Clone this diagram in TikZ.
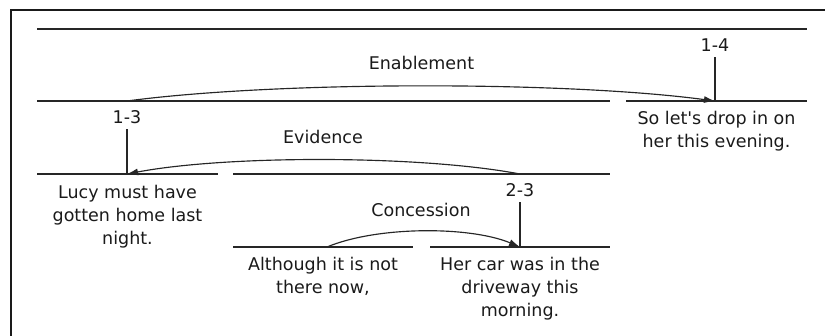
\documentclass[tikz,border=0pt]{standalone}
\usepackage{fontspec}
\setmainfont{DejaVu Sans}
\newfontfamily\lblfont{DejaVu Sans}
\usetikzlibrary{arrows.meta}
\definecolor{linec}{HTML}{262626}
\definecolor{txtc}{HTML}{1A1A1A}
\definecolor{framec}{HTML}{1A1A1A}
\begin{document}
\begin{tikzpicture}[x=1pt,y=-1pt,
  span/.style={draw=linec, line width=1.15pt},
  txt/.style={font=\lblfont\fontsize{17.5}{23}\selectfont, text=txtc, align=center, inner sep=0pt, anchor=north},
  numlbl/.style={font=\lblfont\fontsize{17.5}{23}\selectfont, text=txtc, inner sep=5.5pt},
  rellbl/.style={font=\lblfont\fontsize{17.5}{23}\selectfont, text=txtc, inner sep=0pt},
  rel/.style={draw=linec, line width=1.15pt, -{Latex[length=11pt,width=7pt]}},
]
\useasboundingbox (0,0) rectangle (825,335);
% frame (only top and left edges visible)
\coordinate (fb) at (11,345);
\coordinate (fc) at (11,10);
\coordinate (fr) at (835,10);
\draw[line width=2pt, draw=framec] (fb) -- (fc) -- (fr);

% span 1-4
\coordinate (s14a) at (37,29);
\coordinate (s14b) at (807,29);
\draw[span] (s14a) -- (s14b);
\node[numlbl] (l14) at (715,45) {1-4};
\coordinate (b14) at (715,101);
\draw[span] (l14) -- (b14);
\node[rellbl] (enab) at (421.5,63) {Enablement};

% span 1-3 and leaf 4
\coordinate (s13a) at (37,101);
\coordinate (s13b) at (610,101);
\draw[span] (s13a) -- (s13b);
\coordinate (s4a) at (626,101);
\coordinate (s4b) at (807,101);
\draw[span] (s4a) -- (s4b);
\node[txt] (leaf4) at (716.5,111) {So let's drop in on\\her this evening.};

\coordinate (t13) at (127,101);
\node[numlbl] (l13) at (127,117) {1-3};
\coordinate (b13) at (127,174);
\draw[span] (l13) -- (b13);
\node[rellbl] (evid) at (323,137) {Evidence};

% span 2-3 and leaf 1
\coordinate (s1a) at (37,174);
\coordinate (s1b) at (218,174);
\draw[span] (s1a) -- (s1b);
\node[txt] (leaf1) at (127.5,185) {Lucy must have\\gotten home last\\night.};
\coordinate (s23a) at (233,174);
\coordinate (s23b) at (610,174);
\draw[span] (s23a) -- (s23b);
\coordinate (t23) at (520,174);
\node[numlbl] (l23) at (520,190) {2-3};
\coordinate (b23) at (520,247);
\draw[span] (l23) -- (b23);
\node[rellbl] (conc) at (421,210) {Concession};

% leaves 2 and 3
\coordinate (s2a) at (233,247);
\coordinate (s2b) at (413,247);
\draw[span] (s2a) -- (s2b);
\node[txt] (leaf2) at (323,257) {Although it is not\\there now,};
\coordinate (s3a) at (430,247);
\coordinate (s3b) at (610,247);
\draw[span] (s3a) -- (s3b);
\node[txt] (leaf3) at (520,257) {Her car was in the\\driveway this\\morning.};
\coordinate (t2) at (327,247);

% relation arrows
\draw[rel] (t13) .. controls (277,81) and (565,81) .. (b14);
\draw[rel] (t23) .. controls (420,155) and (227,155) .. (b13);
\draw[rel] (t2) .. controls (377,226) and (470,226) .. (b23);
\end{tikzpicture}
\end{document}
